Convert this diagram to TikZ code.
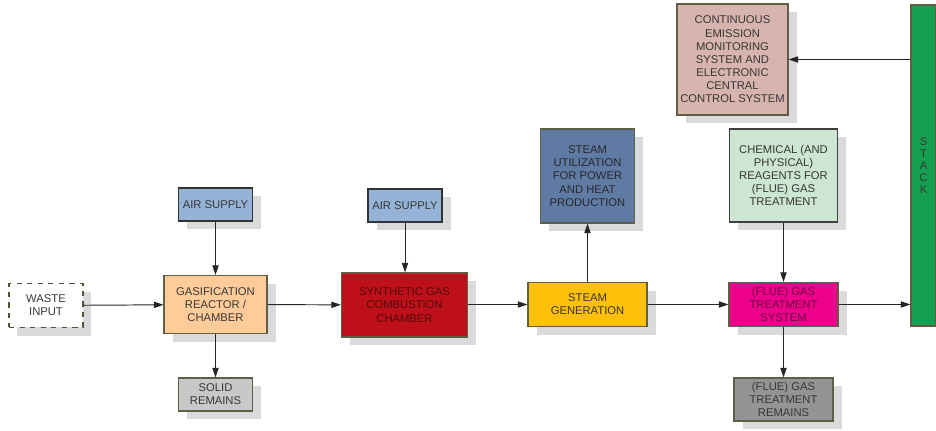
\documentclass[tikz,border=0pt]{standalone}
\usepackage{fontspec}
\setmainfont{Liberation Sans}
\usetikzlibrary{arrows.meta,shadows}

\definecolor{boxline}{RGB}{95,95,70}
\definecolor{shade}{RGB}{218,218,220}
\definecolor{txt}{RGB}{55,55,55}
\definecolor{orangefill}{RGB}{255,204,153}
\definecolor{airfill}{RGB}{149,179,215}
\definecolor{solidfill}{RGB}{200,200,200}
\definecolor{redfill}{RGB}{190,16,26}
\definecolor{utilfill}{RGB}{96,123,163}
\definecolor{genfill}{RGB}{255,192,10}
\definecolor{cemsfill}{RGB}{216,180,174}
\definecolor{chemfill}{RGB}{204,230,210}
\definecolor{fluefill}{RGB}{236,0,140}
\definecolor{remfill}{RGB}{148,148,150}
\definecolor{stackfill}{RGB}{20,160,80}

\begin{document}
\begin{tikzpicture}[x=0.02cm,y=-0.02cm,
	box/.style 2 args={draw=boxline,line width=0.6pt,align=center,inner sep=0pt,
		minimum width=#1*0.02cm,minimum height=#2*0.02cm,text=txt,
		font=\fontsize{6.4}{7.5}\selectfont,
		drop shadow={shadow xshift=0.17cm,shadow yshift=-0.17cm,fill=shade,opacity=1}},
	flow/.style={-{Triangle[length=5.5pt,width=3.6pt]},line width=0.55pt,draw=black!85}]
	\useasboundingbox (0,0) rectangle (936,431);

	\node[box={74}{44},fill=white,draw={rgb,255:red,75;green,85;blue,55},dashed,line width=1pt] (waste) at (46,305.5) {WASTE\\INPUT};
	\node[box={103}{58},fill=orangefill] (gasif) at (215.5,304.5) {GASIFICATION\\REACTOR /\\CHAMBER};
	\node[box={74}{33},fill=airfill,draw=black!80] (air1) at (215.5,204.5) {AIR SUPPLY};
	\node[box={74}{33},fill=solidfill] (solid) at (215.5,394.5) {SOLID\\REMAINS};
	\node[box={74}{33},fill=airfill,draw=black!80] (air2) at (405,205.5) {AIR SUPPLY};
	\node[box={126}{64},fill=redfill,text={rgb,255:red,85;green,10;blue,10}] (syngas) at (404.5,305) {SYNTHETIC GAS\\COMBUSTION\\CHAMBER};
	\node[box={94}{94},fill=utilfill,text={rgb,255:red,40;green,40;blue,45}] (util) at (587.5,176) {STEAM\\UTILIZATION\\FOR POWER\\AND HEAT\\PRODUCTION};
	\node[box={119}{44},fill=genfill] (gen) at (587.5,304.5) {STEAM\\GENERATION};
	\node[box={111}{111},fill=cemsfill] (cems) at (732.5,59.5) {CONTINUOUS\\EMISSION\\MONITORING\\SYSTEM AND\\ELECTRONIC\\CENTRAL\\CONTROL SYSTEM};
	\node[box={108}{93},fill=chemfill,draw=black!75] (chem) at (783.5,175.5) {CHEMICAL (AND\\PHYSICAL)\\REAGENTS FOR\\(FLUE) GAS\\TREATMENT};
	\node[box={109}{44},fill=fluefill,text={rgb,255:red,110;green,0;blue,60}] (flue) at (783.5,304.5) {(FLUE) GAS\\TREATMENT\\SYSTEM};
	\node[box={99}{43},fill=remfill] (fluerem) at (783.5,399.5) {(FLUE) GAS\\TREATMENT\\REMAINS};
	\node[draw=boxline,line width=0.6pt,fill=stackfill,align=center,inner sep=0pt,
		minimum width=25*0.02cm,minimum height=321*0.02cm,text=txt,
		font=\fontsize{6.4}{6.8}\selectfont] (stack) at (923.5,165.5) {S\\T\\A\\C\\K};

	\draw[flow] (waste) -- (gasif);
	\draw[flow] (air1) -- (gasif);
	\draw[flow] (gasif) -- (solid);
	\draw[flow] (gasif) -- (syngas);
	\draw[flow] (air2) -- (air2 |- syngas.north);
	\draw[flow] (syngas.east |- gen) -- (gen);
	\draw[flow] (gen) -- (util);
	\draw[flow] (gen) -- (flue);
	\draw[flow] (chem) -- (flue);
	\draw[flow] (flue) -- (fluerem);
	\draw[flow] (flue) -- (flue -| stack.west);
	\draw[flow] (stack.west |- cems) -- (cems);
\end{tikzpicture}
\end{document}
